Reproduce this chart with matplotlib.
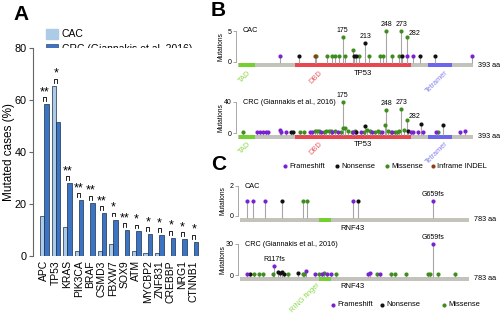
import numpy as np
import matplotlib
matplotlib.use('Agg')
import matplotlib.pyplot as plt
from matplotlib.patches import Rectangle

plt.rcParams['font.family'] = ['Liberation Sans', 'DejaVu Sans']

# ---- panel A data ----
genes = ['APC', 'TP53', 'KRAS', 'PIK3CA', 'BRAF', 'CSMD3', 'FBXW7', 'SOX9',
         'ATM', 'MYCBP2', 'ZNF831', 'CREBBP', 'NRG1', 'CTNNB1']
cac_pct = [15.5, 65.5, 11, 2, 0, 2, 4.5, 0, 2, 1, 1, 0, 0, 0]
crc_pct = [58.5, 51.5, 28, 21.5, 20.5, 16.5, 14, 10, 9.5, 8.5, 8, 7, 6.5, 5.5]
signif = ['**', '*', '**', '**', '**', '**', '*', '**', '*', '*', '*', '*', '*', '*']

# ---- TP53 lollipops (F=frameshift, N=nonsense, M=missense, I=inframe indel) ----
tp53_len = 393
tp53_domains = [(1, 28, 'TAD'), (95, 289, 'DBD'), (318, 358, 'Tetramer')]
tp53_cac_pos = [71, 102, 128, 130, 149, 157, 163, 169, 175, 179, 192, 194, 197, 202, 213,
                219, 237, 243, 248, 258, 269, 273, 275, 282, 283, 293, 305, 330, 392]
tp53_cac_cnt = [1, 1, 1, 1, 1, 1, 1, 1, 4, 1, 2, 1, 1, 1, 3,
                1, 1, 1, 5, 1, 1, 5, 1, 4, 1, 1, 1, 1, 1]
tp53_cac_typ = list('FNIMMMMMMMMNNMNMMMMMMMNMFFNNF')

tp53_crc_pos = [8, 32, 36, 42, 46, 50, 70, 72, 80, 89, 92, 103, 111, 120, 123, 128, 132, 135,
                139, 143, 148, 152, 155, 158, 163, 167, 172, 175, 176, 179, 184, 190, 193, 195,
                198, 205, 210, 213, 216, 220, 224, 229, 234, 238, 240, 245, 248, 251, 256, 258,
                262, 266, 270, 273, 277, 282, 285, 290, 293, 301, 306, 310, 331, 334, 342, 371, 380]
tp53_crc_cnt = [1, 1, 1, 1, 1, 1, 4, 1, 1, 1, 1, 1, 1, 1, 1, 2, 3, 2,
                1, 1, 3, 3, 2, 1, 2, 1, 1, 40, 7, 6, 2, 1, 1, 2,
                1, 1, 1, 9, 4, 2, 1, 1, 2, 1, 1, 10, 30, 2, 1, 1,
                1, 1, 2, 31, 4, 17, 2, 1, 1, 1, 11, 1, 1, 1, 10, 1, 2]
tp53_crc_typ = list('MFFFFFFFFNNMMFFMMMFMMMMFMFMMMMMMFMNFMNMMFMMMFMMMMFMMMMMMNFFFNFFMNFF')

# ---- RNF43 lollipops ----
rnf43_len = 783
rnf43_domains = [(270, 312, 'RING finger')]
rnf43_cac_pos = [23, 45, 86, 143, 214, 229, 386, 403, 659]
rnf43_cac_cnt = [1, 1, 1, 1, 1, 1, 1, 1, 1]
rnf43_cac_typ = list('FFFNMMFNF')

rnf43_crc_pos = [23, 34, 48, 64, 77, 112, 117, 131, 137, 142, 150, 165, 199, 216, 220, 225,
                 256, 271, 282, 287, 296, 310, 328, 438, 444, 467, 480, 518, 529, 569, 643,
                 649, 659, 677, 734]
rnf43_crc_cnt = [1, 1, 1, 1, 1, 1, 9, 3, 2, 3, 1, 1, 2, 1, 1, 4,
                 1, 1, 1, 2, 1, 1, 1, 1, 2, 1, 1, 1, 1, 1, 1,
                 1, 30, 1, 1]
rnf43_crc_typ = list('FNMMMMFNNNNMNMMFFMFMFFMFFMFMMMMMFMM')

mut_colors = {'F': '#7a22d2', 'N': '#111111', 'M': '#3f8c1f', 'I': '#8b3f1a'}
mut_names = {'F': 'Frameshift', 'N': 'Nonsense', 'M': 'Missense', 'I': 'Inframe INDEL'}
dom_colors = {'TAD': '#74d02e', 'DBD': '#e8474f', 'Tetramer': '#6a66ee', 'RING finger': '#74d02e'}
dom_text = {'TAD': '#8ad84a', 'DBD': '#ea6067', 'Tetramer': '#8480f0', 'RING finger': '#8ad84a'}

W, H = 500, 313
fig = plt.figure(figsize=(W / 100, H / 100), dpi=100)


def px_rect(x0, y0, x1, y1):
    # pixel box (origin top-left) -> figure fraction
    return [x0 / W, 1 - y1 / H, (x1 - x0) / W, (y1 - y0) / H]


# overlay axes in pixel units for labels and legends
ov = fig.add_axes([0, 0, 1, 1])
ov.set_xlim(0, W)
ov.set_ylim(H, 0)
ov.axis('off')

# ================= panel A =================
c_cac, c_crc, c_edge = '#abcbe6', '#3b74c2', '#1b2b4a'
axa = fig.add_axes(px_rect(33, 48, 200, 256))
x = np.arange(len(genes))
w = 0.38
axa.bar(x - w / 2, cac_pct, w, color=c_cac, edgecolor=c_edge, lw=0.5)
axa.bar(x + w / 2, crc_pct, w, color=c_crc, edgecolor=c_edge, lw=0.5)
for i in range(len(genes)):
    top = max(cac_pct[i], crc_pct[i])
    axa.plot([i - 0.13, i - 0.13, i + 0.13, i + 0.13],
             [top + 1.2, top + 2.6, top + 2.6, top + 1.2], color='k', lw=0.6)
    axa.text(i, top + 4.6, signif[i], ha='center', va='center', fontsize=9)
axa.set_xlim(-1.0, 13.55)
axa.set_ylim(0, 80)
for s in ['top', 'right', 'bottom']:
    axa.spines[s].set_visible(False)
axa.spines['left'].set_color('#666666')
axa.spines['left'].set_linewidth(0.8)
axa.set_yticks([0, 20, 40, 60, 80])
axa.tick_params(axis='y', labelsize=7.8, length=3, width=0.8, color='#666666', pad=1.5)
axa.set_xticks(x)
axa.set_xticklabels(genes, rotation=90, fontsize=7.5)
axa.tick_params(axis='x', length=0, pad=3)
ov.text(9, 152, 'Mutated cases (%)', rotation=90, ha='center', va='center', fontsize=8.5)

ov.add_patch(Rectangle((46, 29), 12, 10, color=c_cac))
ov.add_patch(Rectangle((46, 44), 12, 10, color=c_crc, ec=c_edge, lw=0.4))
ov.text(62, 34, 'CAC', fontsize=7.5, va='center')
ov.text(62, 49, 'CRC (Giannakis et al.,2016)', fontsize=7.5, va='center')

for lab, lx, ly in [('A', 13, 14), ('B', 211, 11), ('C', 211, 165)]:
    ov.text(lx, ly, lab, fontsize=15, weight='bold', va='center')


# ================= lollipop panels =================
def lollipop(x0, x1, y0, ytop, ymax, length, pos, cnt, typ, domains,
             title, gene, gene_at, labels, dom_at):
    ax = fig.add_axes(px_rect(x0 - 2, ytop - 3, x1 + 3, y0 + 9))
    sx = length / (x1 - x0)
    sy = ymax / (y0 - ytop)
    ax.set_xlim(-2 * sx, length + 3 * sx)
    ax.set_ylim(-9 * sy, ymax + 3 * sy)
    for s in ['top', 'right', 'bottom']:
        ax.spines[s].set_visible(False)
    ax.spines['left'].set_bounds(0, ymax)
    ax.spines['left'].set_color('#999999')
    ax.spines['left'].set_linewidth(0.6)
    ax.set_xticks([])
    ax.set_yticks([0, ymax])
    ax.tick_params(axis='y', labelsize=5, length=2, width=0.6, color='#999999', pad=1)

    ax.add_patch(Rectangle((0, -5.5 * sy), length, 4 * sy, color='#c3c3bc', lw=0))
    for (a, b, name) in domains:
        ax.add_patch(Rectangle((a, -5.5 * sy), b - a, 4 * sy, color=dom_colors[name], lw=0))
    pos = np.array(pos)
    cnt = np.array(cnt)
    typ = np.array(typ)
    ax.vlines(pos, -1.5 * sy, cnt, color='#a6a6a6', lw=0.8, zorder=2)
    for k in ['M', 'N', 'I', 'F']:
        m = typ == k
        if m.any():
            ax.plot(pos[m], cnt[m], 'o', ms=3.0, color=mut_colors[k], mec='none', zorder=3)

    ax.text(length + 5 * sx, -3.5 * sy, f'{length} aa', va='center', fontsize=5.2)
    ax.text(gene_at, -12 * sy, gene, ha='center', va='center', fontsize=5.5)
    ax.text(5 * sx, ymax, title, va='center', fontsize=5.2)
    for (p, txt, side) in labels:
        h = cnt[pos == p].max()
        if side == 'c':
            ax.text(p, h + 6.5 * sy, txt, ha='center', va='center', fontsize=5)
        else:
            ax.text(p + 2 * sx, h + 3.5 * sy, txt, ha='left', va='center', fontsize=5)
    for (p, name) in dom_at:
        ax.text(p, -7 * sy, name, rotation=45, ha='right', va='top',
                color=dom_text[name], fontsize=5.3)
    for t in ax.texts:
        t.set_clip_on(False)
    ov.text(x0 - 17, (y0 + ytop) / 2, 'Mutations', rotation=90, ha='center', va='center', fontsize=4.8)
    return ax


tp53_lab = [(175, '175', 'c'), (248, '248', 'c'), (273, '273', 'c'), (282, '282', 'r')]
tp53_dom_at = [(24, 'TAD'), (144, 'DBD'), (354, 'Tetramer')]
lollipop(238, 473, 62, 31, 5, tp53_len, tp53_cac_pos, tp53_cac_cnt, tp53_cac_typ,
         tp53_domains, 'CAC', 'TP53', 209, tp53_lab + [(213, '213', 'c')], tp53_dom_at)
lollipop(238, 473, 133, 102, 40, tp53_len, tp53_crc_pos, tp53_crc_cnt, tp53_crc_typ,
         tp53_domains, 'CRC (Giannakis et al., 2016)', 'TP53', 209, tp53_lab, tp53_dom_at)
lollipop(240, 469, 216, 186, 2, rnf43_len, rnf43_cac_pos, rnf43_cac_cnt, rnf43_cac_typ,
         rnf43_domains, 'CAC', 'RNF43', 386, [(659, 'G659fs', 'c')], [])
lollipop(240, 469, 275, 244, 30, rnf43_len, rnf43_crc_pos, rnf43_crc_cnt, rnf43_crc_typ,
         rnf43_domains, 'CRC (Giannakis et al., 2016)', 'RNF43', 386,
         [(659, 'G659fs', 'c'), (117, 'R117fs', 'c')], [(280, 'RING finger')])

# legends
for k, lx in zip(['F', 'N', 'M', 'I'], [285, 337, 387, 433]):
    ov.plot(lx, 166, 'o', ms=3.0, color=mut_colors[k], mec='none')
    ov.text(lx + 4, 166, mut_names[k], va='center', fontsize=5.4)
for k, lx in zip(['F', 'N', 'M'], [333, 382, 444]):
    ov.plot(lx, 305, 'o', ms=3.0, color=mut_colors[k], mec='none')
    ov.text(lx + 4, 305, mut_names[k], va='center', fontsize=5.4)

fig.savefig('out.png', dpi=100)
